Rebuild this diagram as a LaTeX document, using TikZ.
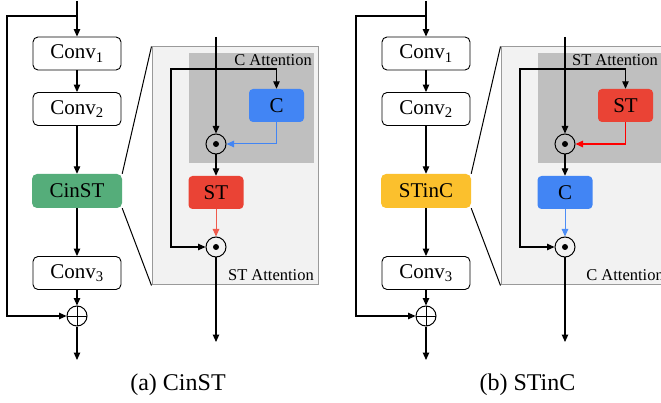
\documentclass[tikz,border=0pt]{standalone}
\usepackage{fontspec}
\setmainfont{Liberation Serif}
\usetikzlibrary{arrows.meta}

\definecolor{cgreen}{HTML}{55AD7A}
\definecolor{cyellow}{HTML}{FBC02D}
\definecolor{cblue}{HTML}{4285F4}
\definecolor{cred}{HTML}{EA4335}
\definecolor{lightred}{HTML}{F05A4C}
\definecolor{lightblue}{HTML}{4C8DF6}
\definecolor{purered}{HTML}{FF0000}
\definecolor{zoombg}{HTML}{F2F2F2}
\definecolor{zoomedge}{HTML}{9A9A9A}
\definecolor{attbg}{HTML}{BFBFBF}

\tikzset{
  boxfont/.style={font=\fontsize{21}{25}\selectfont},
  convbox/.style={draw, rounded corners=5pt, line width=0.9pt, minimum width=88pt,
    minimum height=33pt, inner sep=0pt, boxfont},
  colbox/.style={rounded corners=5pt, minimum width=90pt, minimum height=34pt,
    inner sep=0pt, boxfont},
  attbox/.style={rounded corners=4pt, minimum width=55pt, minimum height=33pt,
    inner sep=0pt, boxfont},
  zoomframe/.style={draw=zoomedge, fill=zoombg, line width=1pt, inner sep=0pt},
  attframe/.style={fill=attbg, inner sep=0pt},
  odotnode/.style={circle, draw, line width=1pt, minimum size=20pt, inner sep=0pt,
    path picture={\fill (path picture bounding box.center) circle (3pt);}},
  oplusnode/.style={circle, draw, line width=1pt, minimum size=20pt, inner sep=0pt,
    path picture={\draw[line width=1pt]
      (path picture bounding box.north) -- (path picture bounding box.south)
      (path picture bounding box.west) -- (path picture bounding box.east);}},
  tip/.style={-{Triangle[length=7.5pt,width=6.5pt]}},
  flow/.style={line width=1.1pt, tip},
  plain/.style={line width=1.1pt},
  lbl/.style={font=\fontsize{16.5}{18}\selectfont, inner sep=0pt},
  caption/.style={font=\fontsize{24}{28}\selectfont, inner sep=0pt},
}

\begin{document}
\begin{tikzpicture}[x=1pt, y=-1pt]
\clip (0,0) rectangle (661,403);
\fill[white] (0,0) rectangle (661,403);

% ================= (a) CinST =================
% zoomed-in frame with the channel-attention region
\node[zoomframe, minimum width=166pt, minimum height=238pt] (aZoom) at (235,166) {};
\node[attframe, minimum width=125pt, minimum height=110pt] (aAtt) at (251.5,108) {};
\node[lbl, anchor=base east] (aLblTop) at (312,66) {C Attention};
\node[lbl, anchor=base east] (aLblBot) at (314,280) {ST Attention};

% main block
\node[convbox] (aConv1) at (77,53.5) {Conv\textsubscript{1}};
\node[convbox] (aConv2) at (77,109) {Conv\textsubscript{2}};
\node[colbox, fill=cgreen] (aMid) at (77,191) {CinST};
\node[convbox] (aConv3) at (77,273) {Conv\textsubscript{3}};
\node[oplusnode] (aPlus) at (77,316) {};
\coordinate (aIn) at (77,1);
\coordinate (aSplit) at (77,16);
\coordinate (aSkip) at (7,16);
\coordinate (aOut) at (77,360);

\draw[flow] (aIn) -- (aConv1);
\draw[flow] (aConv1) -- (aConv2);
\draw[flow] (aConv2) -- (aMid);
\draw[flow] (aMid) -- (aConv3);
\draw[flow] (aConv3) -- (aPlus);
\draw[flow] (aPlus) -- (aOut);
\draw[flow] (aSplit) -- (aSkip) |- (aPlus);

% zoom lines
\draw[line width=1pt] (aMid.north east) -- (aZoom.north west);
\draw[line width=1pt] (aMid.south east) -- (aZoom.south west);

% attention detail
\node[attbox, fill=cblue] (aC) at (276.5,105.5) {C};
\node[odotnode] (aDot1) at (216,144) {};
\node[attbox, fill=cred] (aST) at (216,192.5) {ST};
\node[odotnode] (aDot2) at (216,247) {};
\coordinate (aIn2) at (216,37);
\coordinate (aJ) at (216,69);
\coordinate (aJL) at (171,69);
\coordinate (aOut2) at (216,342);

\draw[flow] (aIn2) -- (aDot1);
\draw[flow] (aJ) -| (aC);
\draw[flow] (aJ) -- (aJL) |- (aDot2);
\draw[line width=1pt, cblue, tip] (aC) |- (aDot1);
\draw[flow] (aDot1) -- (aST);
\draw[line width=1pt, lightred, tip] (aST) -- (aDot2);
\draw[flow] (aDot2) -- (aOut2);

\node[caption, anchor=base] (aCap) at (178,390) {(a) CinST};

% ================= (b) STinC =================
\node[zoomframe, minimum width=166pt, minimum height=238pt] (bZoom) at (584,166) {};
\node[attframe, minimum width=125pt, minimum height=110pt] (bAtt) at (600.5,108) {};
\node[lbl, anchor=base east] (bLblTop) at (658,66) {ST Attention};
\node[lbl, anchor=base east] (bLblBot) at (664,280) {C Attention};

\node[convbox] (bConv1) at (426,53.5) {Conv\textsubscript{1}};
\node[convbox] (bConv2) at (426,109) {Conv\textsubscript{2}};
\node[colbox, fill=cyellow] (bMid) at (426,191) {STinC};
\node[convbox] (bConv3) at (426,273) {Conv\textsubscript{3}};
\node[oplusnode] (bPlus) at (426,316) {};
\coordinate (bIn) at (426,1);
\coordinate (bSplit) at (426,16);
\coordinate (bSkip) at (356,16);
\coordinate (bOut) at (426,360);

\draw[flow] (bIn) -- (bConv1);
\draw[flow] (bConv1) -- (bConv2);
\draw[flow] (bConv2) -- (bMid);
\draw[flow] (bMid) -- (bConv3);
\draw[flow] (bConv3) -- (bPlus);
\draw[flow] (bPlus) -- (bOut);
\draw[flow] (bSplit) -- (bSkip) |- (bPlus);

\draw[line width=1pt] (bMid.north east) -- (bZoom.north west);
\draw[line width=1pt] (bMid.south east) -- (bZoom.south west);

\node[attbox, fill=cred] (bST) at (625.5,105.5) {ST};
\node[odotnode] (bDot1) at (565,144) {};
\node[attbox, fill=cblue] (bC) at (565,192.5) {C};
\node[odotnode] (bDot2) at (565,247) {};
\coordinate (bIn2) at (565,37);
\coordinate (bJ) at (565,69);
\coordinate (bJL) at (520,69);
\coordinate (bOut2) at (565,342);

\draw[flow] (bIn2) -- (bDot1);
\draw[flow] (bJ) -| (bST);
\draw[flow] (bJ) -- (bJL) |- (bDot2);
\draw[line width=1.3pt, purered, tip] (bST) |- (bDot1);
\draw[flow] (bDot1) -- (bC);
\draw[line width=1pt, lightblue, tip] (bC) -- (bDot2);
\draw[flow] (bDot2) -- (bOut2);

\node[caption, anchor=base] (bCap) at (527.5,390) {(b) STinC};
\end{tikzpicture}
\end{document}
